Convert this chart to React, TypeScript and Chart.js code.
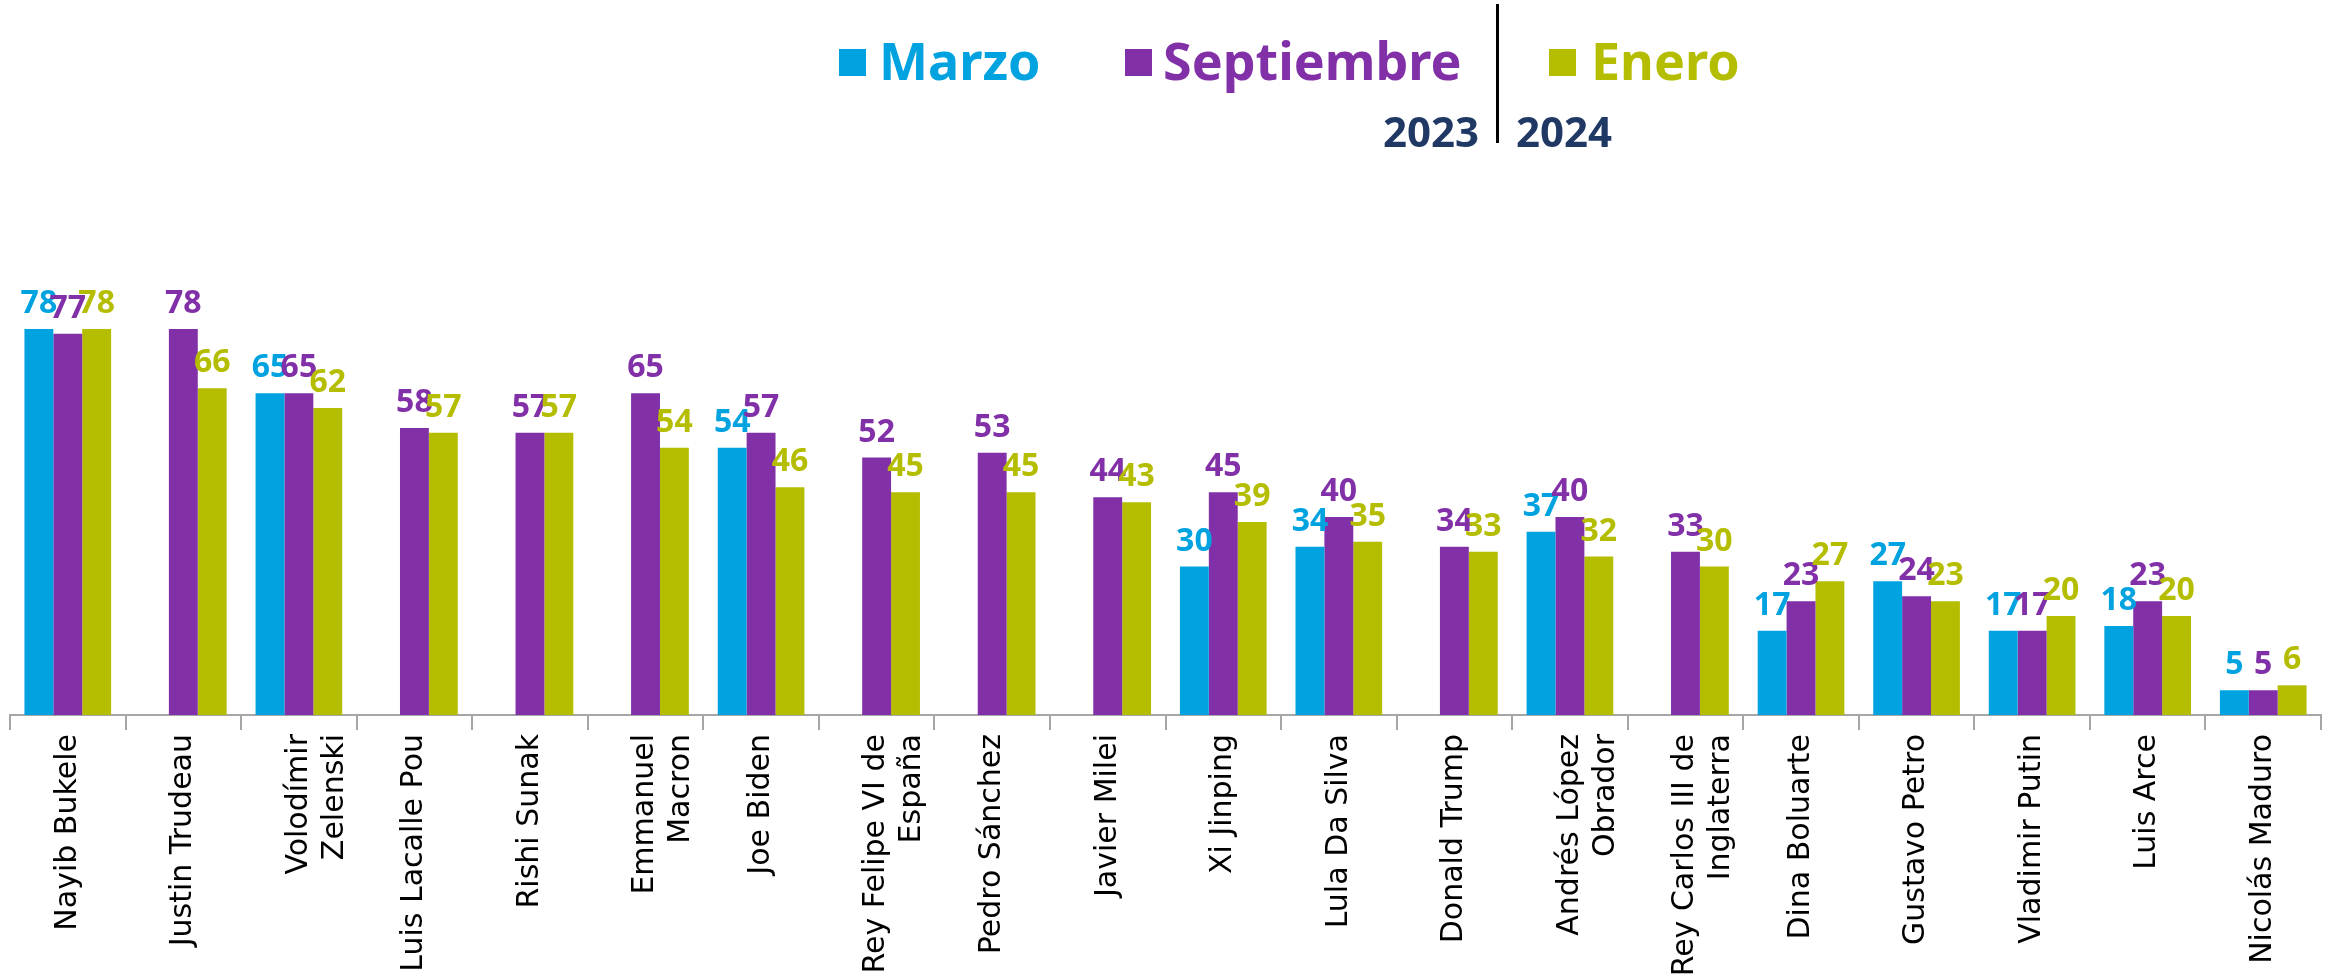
import React, { useEffect, useRef } from "react";
import { Chart, registerables } from "chart.js";

Chart.register(...registerables);

const categories: (string | string[])[] = [
  "Nayib Bukele",
  "Justin Trudeau",
  ["Volodímir", "Zelenski"],
  "Luis Lacalle Pou",
  "Rishi Sunak",
  ["Emmanuel", "Macron"],
  "Joe Biden",
  ["Rey Felipe VI de", "España"],
  "Pedro Sánchez",
  "Javier Milei",
  "Xi Jinping",
  "Lula Da Silva",
  "Donald Trump",
  ["Andrés López", "Obrador"],
  ["Rey Carlos III de", "Inglaterra"],
  "Dina Boluarte",
  "Gustavo Petro",
  "Vladimir Putin",
  "Luis Arce",
  "Nicolás Maduro",
];

const marzo2023: (number | null)[] = [78, null, 65, null, null, null, 54, null, null, null, 30, 34, null, 37, null, 17, 27, 17, 18, 5];
const septiembre2023: (number | null)[] = [77, 78, 65, 58, 57, 65, 57, 52, 53, 44, 45, 40, 34, 40, 33, 23, 24, 17, 23, 5];
const enero2024: (number | null)[] = [78, 66, 62, 57, 57, 54, 46, 45, 45, 43, 39, 35, 33, 32, 30, 27, 23, 20, 20, 6];

const seriesNames = ["Marzo", "Septiembre", "Enero"];
const yearLabels = ["2023", "2024"];

const COLORS = ["#00A3E0", "#8230A8", "#B5BD00"];
const NAVY = "#1F3864";

const dataLabelPlugin = {
  id: "dataLabelPlugin",
  afterDatasetsDraw(chart: any) {
    const ctx = chart.ctx;
    ctx.save();
    ctx.font = "bold 32px 'Noto Sans'";
    ctx.textAlign = "center";
    ctx.textBaseline = "alphabetic";
    chart.data.datasets.forEach((ds: any, i: number) => {
      const meta = chart.getDatasetMeta(i);
      ctx.fillStyle = ds.backgroundColor;
      meta.data.forEach((bar: any, j: number) => {
        const v = ds.data[j];
        if (v == null) return;
        ctx.fillText(String(v), bar.x, bar.y - 16);
      });
    });
    ctx.restore();
  },
};

function ChartCanvas() {
  const ref = useRef<HTMLCanvasElement | null>(null);
  useEffect(() => {
    if (!ref.current) return;
    const chart = new Chart(ref.current, {
      type: "bar",
      data: {
        labels: categories,
        datasets: [
          { label: seriesNames[0], data: marzo2023, backgroundColor: COLORS[0] },
          { label: seriesNames[1], data: septiembre2023, backgroundColor: COLORS[1] },
          { label: seriesNames[2], data: enero2024, backgroundColor: COLORS[2] },
        ],
      },
      options: {
        animation: false,
        responsive: true,
        maintainAspectRatio: false,
        layout: { padding: { top: 220, left: 10, right: 15, bottom: 0 } },
        datasets: { bar: { categoryPercentage: 0.75, barPercentage: 1 } },
        plugins: {
          legend: { display: false },
          tooltip: { enabled: false },
          title: { display: false },
        },
        scales: {
          y: { display: false, min: 0, max: 100 },
          x: {
            afterFit: (scale: any) => {
              scale.height = 260;
            },
            grid: {
              drawOnChartArea: false,
              drawTicks: true,
              tickLength: 15,
              color: "#A6A6A6",
              lineWidth: 2,
              offset: true,
            },
            border: { display: true, color: "#A6A6A6", width: 2 },
            ticks: {
              minRotation: 90,
              maxRotation: 90,
              autoSkip: false,
              padding: 4,
              color: "#000000",
              font: { family: "'DejaVu Sans'", size: 30, lineHeight: 1.2 },
            },
          },
        },
      },
      plugins: [dataLabelPlugin],
    } as any);
    return () => chart.destroy();
  }, []);
  return <canvas ref={ref} />;
}

const abs = (s: React.CSSProperties): React.CSSProperties => ({ position: "absolute", ...s });

export default function App() {
  const legendFont: React.CSSProperties = {
    fontFamily: "'Noto Sans', sans-serif",
    fontWeight: 700,
    fontSize: 52,
    lineHeight: "52px",
    whiteSpace: "nowrap",
  };
  const yearFont: React.CSSProperties = {
    fontFamily: "'Noto Sans', sans-serif",
    fontWeight: 700,
    fontSize: 42,
    lineHeight: "42px",
    color: NAVY,
    whiteSpace: "nowrap",
  };
  return (
    <div style={abs({ left: 0, top: 0, width: 2336, height: 975, background: "#fff", overflow: "hidden" })}>
      <div style={abs({ left: 0, top: 0, width: 2336, height: 975 })}>
        <ChartCanvas />
      </div>
      {/* legend */}
      <div style={abs({ left: 839, top: 49, width: 27, height: 27, background: COLORS[0] })} />
      <div style={{ ...abs({ left: 879, top: 34 }), ...legendFont, color: COLORS[0] }}>{seriesNames[0]}</div>
      <div style={abs({ left: 1125, top: 49, width: 27, height: 27, background: COLORS[1] })} />
      <div style={{ ...abs({ left: 1163, top: 34 }), ...legendFont, color: COLORS[1] }}>{seriesNames[1]}</div>
      <div style={abs({ left: 1496, top: 4, width: 3, height: 139, background: "#000" })} />
      <div style={abs({ left: 1549, top: 49, width: 27, height: 27, background: COLORS[2] })} />
      <div style={{ ...abs({ left: 1591, top: 34 }), ...legendFont, color: COLORS[2] }}>{seriesNames[2]}</div>
      <div style={{ ...abs({ right: 2336 - 1479, top: 110 }), ...yearFont }}>{yearLabels[0]}</div>
      <div style={{ ...abs({ left: 1516, top: 110 }), ...yearFont }}>{yearLabels[1]}</div>
    </div>
  );
}
